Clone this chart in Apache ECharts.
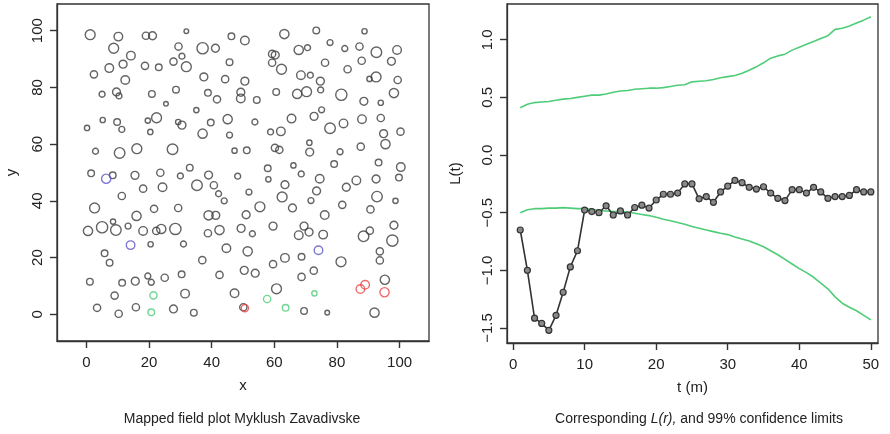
<!DOCTYPE html>
<html>
<head>
<meta charset="utf-8">
<script src="https://cdn.jsdelivr.net/npm/echarts@6/dist/echarts.min.js"></script>
<style>
  html, body { margin: 0; padding: 0; background: #fff; }
  #chart { width: 890px; height: 434px; background: #fff; }
</style>
</head>
<body>
<div id="chart"></div>
<script>
// mapped trees: [x, y, stem size]
var blackTrees = [
  [1.2,98.6,15],[10.2,97.9,13],[19.0,98.2,11],[21.1,98.2,12],[31.9,99.8,7],[46.3,98.0,10],[50.6,96.5,13],
  [63.2,98.8,14],[73.4,100.1,10],[88.8,99.8,8],
  [8.7,93.8,15],[14.2,91.2,13],[29.4,94.4,11],[37.1,93.8,17],[41.2,93.8,12],[30.5,91.0,9],
  [67.8,93.2,14],[70.6,94.0,9],[77.8,95.8,9],[82.5,93.7,9],[87.2,94.4,11],[92.6,92.4,16],[99.2,93.2,13],
  [59.3,91.8,11],[60.3,91.4,12],[59.3,88.7,11],[62.3,86.4,15],[76.2,88.7,11],[87.9,89.4,11],[97.4,89.2,12],[83.4,86.4,11],
  [7.3,86.8,13],[11.7,88.2,12],[18.7,87.6,11],[23.1,87.1,10],[27.8,89.1,11],[31.9,87.3,15],[45.7,88.9,10],
  [2.4,84.6,11],[12.4,82.6,13],[37.5,83.7,12],[44.3,82.9,11],[50.6,82.2,12],
  [68.5,84.3,13],[71.5,84.3,9],[74.7,82.2,12],[90.4,83.0,8],[92.5,83.7,15],[99.4,82.6,11],
  [5.0,77.6,9],[9.6,78.4,12],[10.4,77.0,9],[20.9,77.7,10],[28.6,79.2,10],[38.8,78.1,10],[41.7,75.8,11],
  [49.3,78.3,12],[49.3,76.1,13],
  [74.8,79.1,9],[60.6,78.4,10],[67.3,77.7,14],[70.3,78.5,15],[81.4,77.4,17],[88.6,75.1,12],[94.0,74.6,8],
  [98.2,78.0,14],[54.4,75.6,10],
  [25.4,74.2,7],[35.1,72.0,8],[75.1,72.1,9],
  [5.2,68.5,8],[9.8,67.8,10],[11.3,65.2,9],[19.6,68.3,8],[22.4,69.3,15],[20.4,64.3,8],[29.3,67.8,8],
  [30.5,66.7,12],[39.7,67.6,10],[45.1,68.8,14],[37.1,63.7,14],[45.7,63.2,9],[0.2,65.7,8],
  [53.8,67.8,9],[65.5,69.0,13],[72.7,69.8,12],[82.1,67.3,13],[88.0,68.8,13],[94.0,69.2,11],
  [58.8,64.3,9],[62.1,64.5,13],[77.8,65.6,16],[94.9,63.7,12],[100.3,64.4,11],
  [2.9,57.5,9],[10.6,56.9,16],[16.1,58.4,15],[27.5,58.2,16],[47.3,57.7,8],
  [51.2,57.8,10],[60.2,58.7,11],[61.6,58.0,11],[71.2,60.5,8],[71.3,57.2,12],[81.0,57.3,9],[87.6,59.1,11],[95.5,60.0,14],
  [1.5,49.7,10],[8.4,49.0,10],[15.5,49.0,12],[23.6,49.9,11],[30.0,48.8,9],[33.0,51.7,10],[39.0,49.1,12],[48.3,48.7,9],
  [57.9,51.5,10],[66.1,52.5,8],[79.1,53.0,10],[93.3,53.5,10],[100.4,51.9,13],
  [58.1,47.6,8],[68.6,49.5,9],[74.5,47.8,13],[86.2,47.2,13],[92.5,47.7,12],[99.8,48.2,10],
  [18.1,44.3,11],[24.3,44.8,13],[35.3,45.5,16],[40.7,45.5,11],[42.2,42.5,9],[44.0,40.0,9],[11.3,41.7,11],
  [51.9,43.1,9],[63.4,45.7,12],[73.5,43.5,12],[83.0,44.8,12],[62.5,41.4,15],[92.8,41.5,16],[71.7,40.1,9],[98.7,40.0,8],
  [2.6,37.5,15],[16.0,34.7,14],[21.6,37.2,11],[29.3,37.5,11],[39.0,34.9,14],[41.3,34.9,12],[51.0,35.1,12],
  [55.4,37.9,15],[65.8,37.5,12],[81.7,38.6,11],[90.7,37.0,11],[76.1,35.0,13],
  [59.6,31.1,12],[69.5,31.1,12],[98.2,31.4,12],[49.4,30.3,12],
  [0.5,29.4,14],[5.0,30.7,17],[9.4,29.7,16],[8.5,32.7,8],[13.3,31.1,9],[18.1,29.4,13],[22.3,29.4,11],
  [23.9,30.1,14],[28.4,30.1,17],[38.8,28.6,11],[42.5,29.7,14],
  [53.0,28.4,9],[67.8,27.9,13],[71.1,29.0,12],[75.6,28.1,13],[88.5,27.5,16],[90.5,29.5,11],[97.7,26.0,17],
  [20.5,24.7,8],[31.0,24.8,9],[44.7,23.3,13],[5.8,21.5,10],[7.4,18.2,10],[37.0,19.1,11],
  [51.5,22.2,14],[63.4,19.9,13],[59.6,17.7,11],[68.7,20.3,10],[81.3,18.5,15],[93.7,22.2,11],[93.7,19.0,11],
  [42.5,13.9,11],[1.1,11.5,10],[11.4,11.1,10],[15.6,11.7,12],[19.6,13.5,9],[20.7,11.3,9],[25.0,12.9,11],[30.4,14.1,10],
  [50.4,15.5,12],[53.9,14.5,12],[68.7,13.2,11],[72.6,15.4,11],[95.3,12.2,14],
  [9.0,6.6,11],[31.5,7.3,13],[47.3,7.4,13],[60.7,9.0,15],
  [3.4,2.3,11],[10.3,0.2,11],[15.8,2.5,11],[27.8,1.9,12],[34.3,0.6,10],[50.1,2.5,11],[69.5,1.2,10],[76.9,0.6,7],[92.0,0.6,14]
];
var blueTrees = [[6.3,47.8,14],[14.1,24.4,13],[74.1,22.6,13]];
var greenTrees = [[21.4,6.7,11],[20.7,0.7,10],[57.7,5.4,11],[63.6,2.3,10],[72.8,7.4,8]];
var redTrees = [[50.6,2.2,11],[87.5,8.9,13],[89.0,10.4,13],[95.2,7.8,14]];

var mapTicks = [0, 20, 40, 60, 80, 100];

// L-function
var tValues = [1,2,3,4,5,6,7,8,9,10,11,12,13,14,15,16,17,18,19,20,21,22,23,24,25,
  26,27,28,29,30,31,32,33,34,35,36,37,38,39,40,41,42,43,44,45,46,47,48,49,50];
var lObserved = [-0.65,-1.00,-1.415,-1.46,-1.52,-1.39,-1.19,-0.97,-0.83,-0.477,
  -0.49,-0.50,-0.44,-0.52,-0.485,-0.52,-0.455,-0.435,-0.46,-0.39,
  -0.34,-0.34,-0.33,-0.25,-0.25,-0.38,-0.36,-0.41,-0.32,-0.27,
  -0.22,-0.24,-0.28,-0.295,-0.275,-0.33,-0.375,-0.395,-0.30,-0.30,
  -0.33,-0.28,-0.32,-0.375,-0.36,-0.36,-0.35,-0.30,-0.32,-0.32];
var lUpper = [0.41,0.44,0.455,0.46,0.465,0.475,0.485,0.49,0.50,0.51,
  0.52,0.52,0.53,0.545,0.555,0.56,0.57,0.575,0.58,0.58,
  0.585,0.595,0.605,0.61,0.635,0.64,0.645,0.655,0.67,0.68,
  0.69,0.71,0.735,0.765,0.80,0.84,0.86,0.875,0.91,0.935,
  0.96,0.985,1.01,1.035,1.09,1.10,1.12,1.145,1.17,1.20];
var lLower = [-0.50,-0.475,-0.465,-0.465,-0.46,-0.46,-0.456,-0.46,-0.465,-0.465,
  -0.47,-0.48,-0.485,-0.49,-0.49,-0.495,-0.505,-0.515,-0.525,-0.54,
  -0.557,-0.57,-0.585,-0.60,-0.62,-0.635,-0.65,-0.664,-0.678,-0.69,
  -0.71,-0.728,-0.745,-0.77,-0.795,-0.83,-0.865,-0.905,-0.945,-0.985,
  -1.02,-1.06,-1.11,-1.16,-1.23,-1.285,-1.32,-1.35,-1.39,-1.43];

var tTicks = [0, 10, 20, 30, 40, 50];
var lTicks = [-1.5, -1, -0.5, 0, 0.5, 1];

function pairs(xs, ys) {
  return xs.map(function (x, i) { return [x, ys[i]]; });
}

var font = 'Liberation Sans, Arial, sans-serif';
var ink = '#333';

function treeSeries(data, color) {
  return {
    type: 'scatter',
    xAxisIndex: 0,
    yAxisIndex: 0,
    data: data,
    symbol: 'circle',
    symbolSize: function (v) { return v[2] * 0.66; },
    itemStyle: { color: 'rgba(0,0,0,0)', borderColor: color, borderWidth: 1.4 },
    silent: true
  };
}

function xAxisCfg(grid, min, max, ticks, name) {
  return {
    gridIndex: grid, type: 'value', min: min, max: max, position: 'bottom',
    name: name, nameLocation: 'middle', nameGap: 37,
    nameTextStyle: { fontFamily: font, fontSize: 15, color: '#222' },
    axisLine: { show: true, onZero: false, lineStyle: { color: ink, width: 1.3 } },
    splitLine: { show: false },
    axisTick: { show: false },
    axisLabel: { customValues: ticks, fontFamily: font, fontSize: 15, color: '#222', margin: 14 }
  };
}

function yAxisCfg(grid, min, max, ticks, name, gap, fmt) {
  return {
    gridIndex: grid, type: 'value', min: min, max: max, position: 'left',
    name: name, nameLocation: 'middle', nameGap: gap, nameRotate: 90,
    nameTextStyle: { fontFamily: font, fontSize: 15, color: '#222' },
    axisLine: { show: true, onZero: false, lineStyle: { color: ink, width: 1.3 } },
    splitLine: { show: false },
    axisTick: { show: false },
    axisLabel: { customValues: ticks, rotate: 90, fontFamily: font, fontSize: 15, color: '#222', margin: 12, formatter: fmt }
  };
}

// plain companion axes that only carry the outward ticks
function tickAxis(grid, min, max, ticks, pos) {
  return {
    gridIndex: grid, type: 'value', min: min, max: max, position: pos, offset: 0,
    axisLine: { show: false, onZero: false },
    axisTick: { show: true, length: 7, customValues: ticks, lineStyle: { color: ink, width: 1.4 } },
    axisLabel: { show: false },
    splitLine: { show: false }
  };
}

var chart = echarts.init(document.getElementById('chart'));
chart.setOption({
  animation: false,
  title: [
    {
      text: 'Mapped field plot Myklush Zavadivske',
      left: 237, top: 407, textAlign: 'center',
      textStyle: { fontFamily: font, fontSize: 14, fontWeight: 'normal', color: '#222' }
    },
    {
      text: 'Corresponding {i|L(r),} and 99% confidence limits',
      left: 694, top: 407, textAlign: 'center',
      textStyle: {
        fontFamily: font, fontSize: 14, fontWeight: 'normal', color: '#222',
        rich: { i: { fontFamily: font, fontSize: 14, fontStyle: 'italic', color: '#222' } }
      }
    }
  ],
  grid: [
    { left: 57, top: 4, width: 372, height: 337, show: true, borderColor: ink, borderWidth: 1.3 },
    { left: 507, top: 4, width: 371, height: 339, show: true, borderColor: ink, borderWidth: 1.3 }
  ],
  xAxis: [
    xAxisCfg(0, -9.4, 109.4, mapTicks, 'x'),
    xAxisCfg(1, -0.85, 51, tTicks, 't (m)'),
    tickAxis(0, -9.4, 109.4, mapTicks, 'bottom'),
    tickAxis(1, -0.85, 51, tTicks, 'bottom')
  ],
  yAxis: [
    yAxisCfg(0, -9.4, 109.4, mapTicks, 'y', 38, function (v) { return String(v); }),
    yAxisCfg(1, -1.63, 1.31, lTicks, 'L(t)', 44, function (v) {
      return (v < 0 ? '\u2212' : '') + Math.abs(v).toFixed(1);
    }),
    tickAxis(0, -9.4, 109.4, mapTicks, 'left'),
    tickAxis(1, -1.63, 1.31, lTicks, 'left')
  ],
  series: [
    treeSeries(blackTrees, '#3c3c3c'),
    treeSeries(blueTrees, '#5b55c9'),
    treeSeries(greenTrees, '#4fcc78'),
    treeSeries(redTrees, '#ea4545'),
    {
      type: 'line', xAxisIndex: 1, yAxisIndex: 1,
      data: pairs(tValues, lUpper),
      showSymbol: false,
      lineStyle: { color: '#4fcc78', width: 1.6 },
      silent: true
    },
    {
      type: 'line', xAxisIndex: 1, yAxisIndex: 1,
      data: pairs(tValues, lLower),
      showSymbol: false,
      lineStyle: { color: '#4fcc78', width: 1.6 },
      silent: true
    },
    {
      type: 'line', xAxisIndex: 1, yAxisIndex: 1,
      data: pairs(tValues, lObserved),
      symbol: 'circle', symbolSize: 6, showSymbol: true,
      lineStyle: { color: '#333', width: 1.6 },
      itemStyle: { color: '#8a8a8a', borderColor: '#333', borderWidth: 1.2 },
      silent: true
    }
  ]
});
</script>
</body>
</html>
